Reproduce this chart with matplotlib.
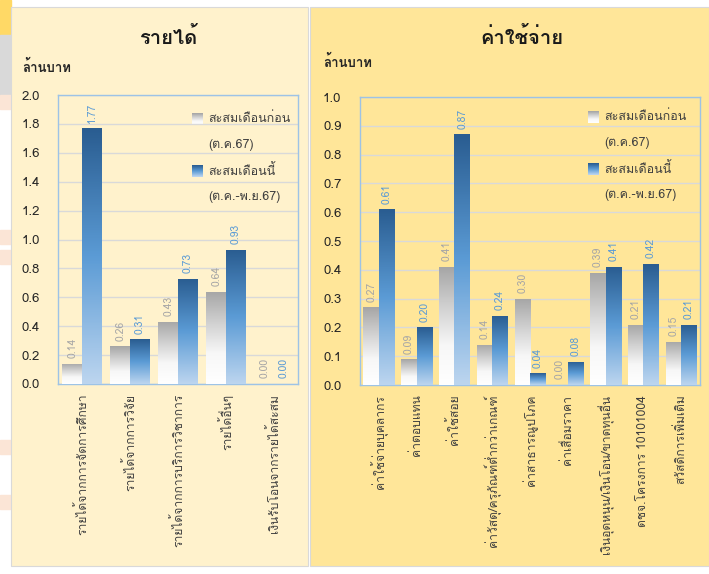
import numpy as np
import matplotlib
matplotlib.use("Agg")
import matplotlib.pyplot as plt
from matplotlib.colors import LinearSegmentedColormap
from matplotlib.patches import Rectangle

plt.rcParams["font.family"] = ["Loma", "Noto Sans Thai Looped", "DejaVu Sans"]

# data
inc_cats = ["รายได้จากการจัดการศึกษา", "รายได้จากการวิจัย", "รายได้จากการบริการวิชาการ",
            "รายได้อื่นๆ", "เงินรับโอนจากรายได้สะสม"]
inc_prev = [0.14, 0.26, 0.43, 0.64, 0.00]
inc_now = [1.77, 0.31, 0.73, 0.93, 0.00]

exp_cats = ["ค่าใช้จ่ายบุคลากร", "ค่าตอบแทน", "ค่าใช้สอย", "ค่าวัสดุ/ครุภัณฑ์ต่ำกว่าเกณฑ์",
            "ค่าสาธารณูปโภค", "ค่าเสื่อมราคา", "เงินอุดหนุน/เงินโอน/ขาดทุนอื่น",
            "ดชจ.โครงการ 10101004", "สวัสดิการเพิ่มเติม"]
exp_prev = [0.27, 0.09, 0.41, 0.14, 0.30, 0.00, 0.39, 0.21, 0.15]
exp_now = [0.61, 0.20, 0.87, 0.24, 0.04, 0.08, 0.41, 0.42, 0.21]

legend_prev = ["สะสมเดือนก่อน", "(ต.ค.67)"]
legend_now = ["สะสมเดือนนี้", "(ต.ค.-พ.ย.67)"]

grey_cm = LinearSegmentedColormap.from_list("g", ["#ffffff", "#f7f7f7", "#d0d0d0", "#a6a6a6"])
blue_cm = LinearSegmentedColormap.from_list("b", ["#bcd5ef", "#5b9bd5", "#2a5d91"])

W, H = 709, 574
fig = plt.figure(figsize=(W / 100, H / 100), dpi=100)
fig.patch.set_facecolor("white")

def px(x0, y0, x1, y1):
    return [x0 / W, 1 - y1 / H, (x1 - x0) / W, (y1 - y0) / H]

# background: bit of a table on the left, two panels
bg = fig.add_axes([0, 0, 1, 1])
bg.set_xlim(0, W)
bg.set_ylim(H, 0)
bg.axis("off")
bg.add_patch(Rectangle((0, 0), 11, 35, color="#ffd966"))
bg.add_patch(Rectangle((0, 35), 11, 60, color="#d9d9d9"))
for y0, c in ((95, "#fbe5d6"), (230, "#fbe5d6"), (250, "#fbe5d6"), (440, "#fbe5d6"), (495, "#fbe5d6")):
    bg.add_patch(Rectangle((0, y0), 11, 14, color=c))
bg.add_patch(Rectangle((11, 7), 297, 559, facecolor="#fff2cc", edgecolor="#d9d9d9", lw=0.8))
bg.add_patch(Rectangle((310, 7), 399, 559, facecolor="#ffe699", edgecolor="#d9d9d9", lw=0.8))


def grad_bars(ax, x, vals, cm, width):
    bars = ax.bar(x, vals, width, facecolor="none", edgecolor="none", zorder=3)
    g = np.linspace(0, 1, 100).reshape(-1, 1)
    for b in bars:
        h = b.get_height()
        if h <= 0:
            continue
        x0 = b.get_x()
        im = ax.imshow(g, cmap=cm, aspect="auto", origin="lower",
                       extent=(x0, x0 + b.get_width(), 0, h), zorder=3)
        im.set_clip_path(b)
    return bars


def panel(rect, cats, prev, now, ymax, step, title, title_x, unit_xy, leg_xy, pad):
    ax = fig.add_axes(rect)
    ax.set_facecolor("none")
    x = np.arange(len(cats))
    w = 0.41
    grad_bars(ax, x - w / 2, prev, grey_cm, w)
    grad_bars(ax, x + w / 2, now, blue_cm, w)
    for xi, v in zip(x, prev):
        ax.annotate(f"{v:.2f}", (xi - w / 2, v), xytext=(0, 4), textcoords="offset points",
                    rotation=90, ha="center", va="bottom", fontsize=7.5, color="#a6a6a6")
    for xi, v in zip(x, now):
        ax.annotate(f"{v:.2f}", (xi + w / 2, v), xytext=(0, 4), textcoords="offset points",
                    rotation=90, ha="center", va="bottom", fontsize=7.5, color="#5b9bd5")
    ticks = np.arange(0, ymax + step / 2, step)
    ax.set_xlim(-0.5, len(cats) - 0.5)
    ax.set_ylim(0, ymax)
    ax.set_yticks(ticks)
    ax.set_yticklabels([f"{t:.1f}" for t in ticks])
    ax.set_xticks(x)
    ax.set_xticklabels(cats, rotation=90, fontsize=8.7, color="#404040")
    ax.tick_params(axis="both", length=0)
    ax.tick_params(axis="y", labelsize=9.5, pad=pad, labelcolor="#262626")
    ax.tick_params(axis="x", pad=7)
    for t in ax.get_yticklabels():
        t.set_ha("left")
    ax.grid(axis="y", color="#d9d9d9", lw=1, zorder=0)
    ax.set_axisbelow(True)
    for s in ax.spines.values():
        s.set_color("#9dc3e6")
        s.set_linewidth(1)
    bg.text(title_x, 37, title, ha="center", va="center", fontsize=14.5, fontweight="bold", color="#1a1a1a")
    bg.text(unit_xy[0], unit_xy[1], "ล้านบาท", ha="left", va="center", fontsize=9.5,
            fontweight="bold", color="#262626")
    lx, ly = leg_xy
    for dy, cm, lines in ((0, grey_cm, legend_prev), (52, blue_cm, legend_now)):
        bg.imshow(np.linspace(1, 0, 20).reshape(-1, 1) * np.ones((1, 20)), cmap=cm,
                  extent=(lx, lx + 11, ly + dy + 6, ly + dy - 6), aspect="auto", zorder=5)
        bg.text(lx + 16, ly + dy, lines[0], ha="left", va="center", fontsize=9, color="#404040")
        bg.text(lx + 16, ly + dy + 26, lines[1], ha="left", va="center", fontsize=9, color="#404040")
    return ax


panel(px(58, 95, 298, 384), inc_cats, inc_prev, inc_now, 2.0, 0.2,
      "รายได้", 168, (22, 67), (192, 119), 26)
panel(px(360, 97, 700, 385), exp_cats, exp_prev, exp_now, 1.0, 0.1,
      "ค่าใช้จ่าย", 522, (323, 62), (588, 117), 26.6)
bg.set_xlim(0, W)
bg.set_ylim(H, 0)

fig.savefig("out.png", dpi=100)
